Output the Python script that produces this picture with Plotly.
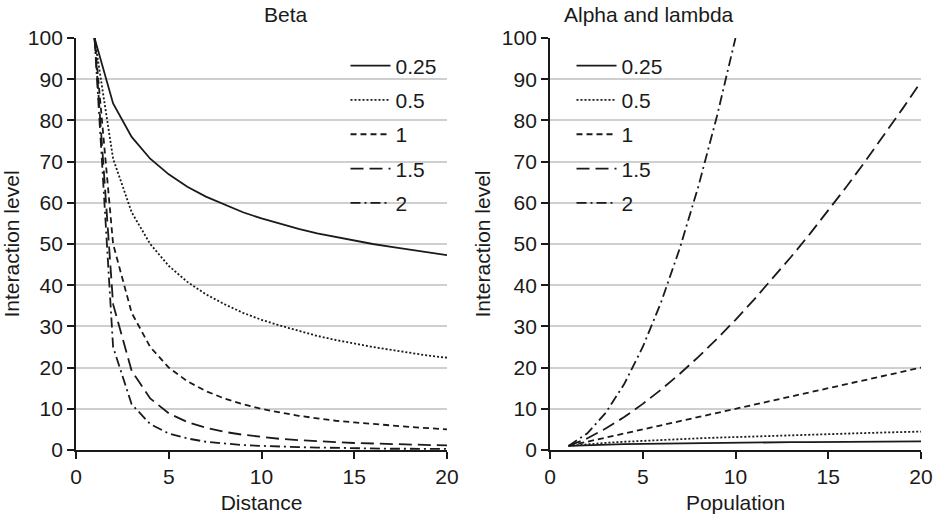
import plotly.graph_objects as go

# Distance decay: interaction level at integer distances 1..20 for each beta
distance = list(range(1, 21))
beta_labels = ["0.25", "0.5", "1", "1.5", "2"]
beta_025 = [100, 84.1, 76.0, 70.7, 66.9, 63.9, 61.5, 59.5, 57.7, 56.2,
            54.9, 53.7, 52.6, 51.7, 50.8, 50.0, 49.3, 48.6, 47.9, 47.3]
beta_05 = [100, 70.7, 57.7, 50.0, 44.7, 40.8, 37.8, 35.4, 33.3, 31.6,
           30.2, 28.9, 27.7, 26.7, 25.8, 25.0, 24.3, 23.6, 22.9, 22.4]
beta_1 = [100, 50.0, 33.3, 25.0, 20.0, 16.7, 14.3, 12.5, 11.1, 10.0,
          9.1, 8.3, 7.7, 7.1, 6.7, 6.3, 5.9, 5.6, 5.3, 5.0]
beta_15 = [100, 35.4, 19.2, 12.5, 8.9, 6.8, 5.4, 4.4, 3.7, 3.2,
           2.7, 2.4, 2.1, 1.9, 1.7, 1.6, 1.4, 1.3, 1.2, 1.1]
beta_2 = [100, 25.0, 11.1, 6.3, 4.0, 2.8, 2.0, 1.6, 1.2, 1.0,
          0.8, 0.7, 0.6, 0.5, 0.4, 0.4, 0.3, 0.3, 0.3, 0.25]

# Population scaling: interaction level at populations 1..20 for each exponent
population = list(range(1, 21))
alpha_025 = [1, 1.19, 1.32, 1.41, 1.50, 1.57, 1.63, 1.68, 1.73, 1.78,
             1.82, 1.86, 1.90, 1.93, 1.97, 2.00, 2.03, 2.06, 2.09, 2.11]
alpha_05 = [1, 1.41, 1.73, 2.00, 2.24, 2.45, 2.65, 2.83, 3.00, 3.16,
            3.32, 3.46, 3.61, 3.74, 3.87, 4.00, 4.12, 4.24, 4.36, 4.47]
alpha_1 = [1, 2, 3, 4, 5, 6, 7, 8, 9, 10,
           11, 12, 13, 14, 15, 16, 17, 18, 19, 20]
alpha_15 = [1, 2.8, 5.2, 8.0, 11.2, 14.7, 18.5, 22.6, 27.0, 31.6,
            36.5, 41.6, 46.9, 52.4, 58.1, 64.0, 70.1, 76.4, 82.8, 89.4]
alpha_2 = [1, 4, 9, 16, 25, 36, 49, 64, 81, 100]

left_series = [beta_025, beta_05, beta_1, beta_15, beta_2]
right_series = [alpha_025, alpha_05, alpha_1, alpha_15, alpha_2]
dashes = ["solid", "2px,2px", "6px,4px", "13px,6px", "10px,4px,2px,4px"]

FONT = "Liberation Sans, Arial, Helvetica, sans-serif"
INK = "#1a1a1a"
FS = 21

fig = go.Figure()
for i, (lab, ys) in enumerate(zip(beta_labels, left_series)):
    fig.add_trace(go.Scatter(
        x=distance[:len(ys)], y=ys, mode="lines", name=lab,
        line=dict(color=INK, width=1.8, dash=dashes[i]),
        xaxis="x", yaxis="y", legend="legend", legendgroup=f"b{i}"))
for i, (lab, ys) in enumerate(zip(beta_labels, right_series)):
    fig.add_trace(go.Scatter(
        x=population[:len(ys)], y=ys, mode="lines", name=lab,
        line=dict(color=INK, width=1.8, dash=dashes[i]),
        xaxis="x2", yaxis="y2", legend="legend2", legendgroup=f"a{i}"))

W, H = 936, 517
ydom = [1 - 450 / H, 1 - 38 / H]
xdom1 = [76 / W, 447 / W]
xdom2 = [550 / W, 921 / W]

xcommon = dict(range=[0, 20], tickvals=[0, 5, 10, 15, 20], showgrid=False,
               zeroline=False, showline=True, linecolor=INK, linewidth=1.8,
               ticks="outside", ticklen=7, tickwidth=1.5, tickcolor=INK,
               automargin=False,
               tickfont=dict(size=FS, color=INK, family=FONT))
ycommon = dict(range=[0, 100], dtick=10, showgrid=True, gridcolor="#cfcfcf",
               gridwidth=1.5, zeroline=False, showline=True, linecolor=INK,
               linewidth=1.8, ticks="outside", ticklen=7, tickwidth=1.5,
               tickcolor=INK, automargin=False,
               tickfont=dict(size=FS, color=INK, family=FONT),
               title=dict(text="Interaction level",
                          font=dict(size=FS, color=INK, family=FONT),
                          standoff=6))

legcommon = dict(bgcolor="rgba(0,0,0,0)", borderwidth=0,
                 font=dict(size=FS, color=INK, family=FONT),
                 traceorder="grouped", tracegroupgap=4, itemwidth=40,
                 yanchor="top", xanchor="left")

fig.update_layout(
    width=W, height=H,
    margin=dict(l=0, r=0, t=0, b=0, pad=0, autoexpand=False),
    paper_bgcolor="white", plot_bgcolor="white",
    showlegend=True,
    xaxis=dict(domain=xdom1, anchor="y",
               title=dict(text="Distance", font=dict(size=FS, color=INK, family=FONT), standoff=8),
               **xcommon),
    yaxis=dict(domain=ydom, anchor="x", **ycommon),
    xaxis2=dict(domain=xdom2, anchor="y2",
                title=dict(text="Population", font=dict(size=FS, color=INK, family=FONT), standoff=8),
                **xcommon),
    yaxis2=dict(domain=ydom, anchor="x2", **ycommon),
    legend=dict(x=345.5 / W, y=1 - 45.5 / H, **legcommon),
    legend2=dict(x=571.5 / W, y=1 - 45.5 / H, **legcommon),
    annotations=[
        dict(text="Beta", x=(xdom1[0] + xdom1[1]) / 2, y=1 - 15 / H,
             xref="paper", yref="paper", showarrow=False, yanchor="middle",
             font=dict(size=FS, color=INK, family=FONT)),
        dict(text="Alpha and lambda", x=(xdom2[0] + xdom2[1]) / 2, y=1 - 15 / H,
             xref="paper", yref="paper", showarrow=False, yanchor="middle",
             font=dict(size=FS, color=INK, family=FONT)),
    ],
)

fig.write_html("out.html")
